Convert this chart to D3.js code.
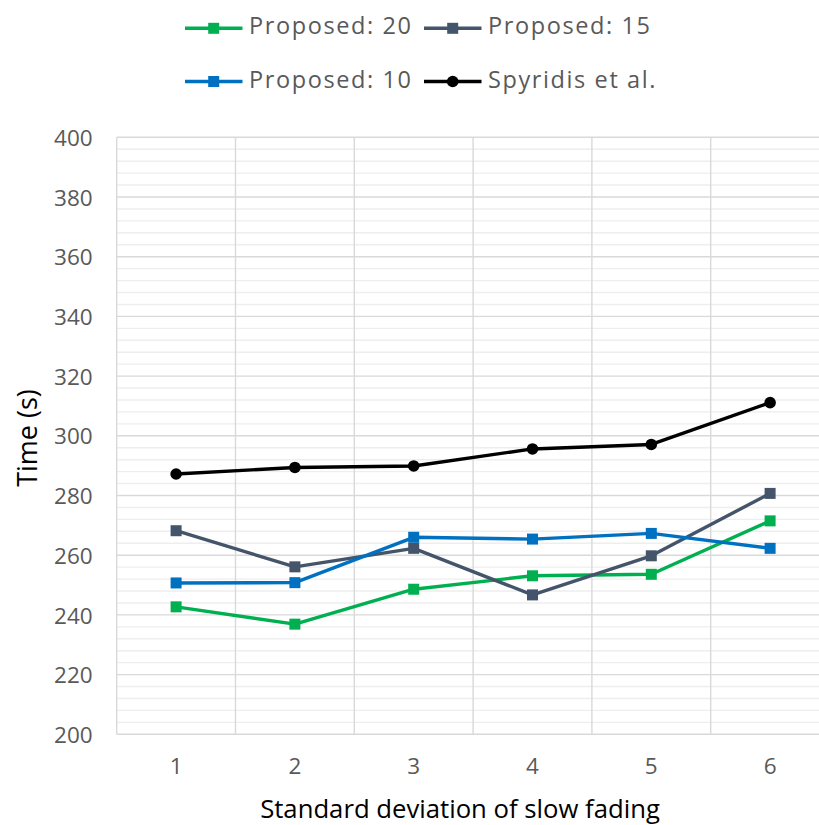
<!DOCTYPE html>
<html>
<head>
<meta charset="utf-8">
<script src="https://cdn.jsdelivr.net/npm/d3@7"></script>
<style>
  html, body { margin: 0; padding: 0; background: #fff; }
  svg { display: block; }
  text { font-family: "Open Sans", "Noto Sans", sans-serif; }
</style>
</head>
<body>
<svg id="chart" width="819" height="825"></svg>
<script>
// Chart data
const categories = ["1", "2", "3", "4", "5", "6"];
const proposed20 = [242.7, 236.9, 248.6, 253.1, 253.6, 271.5];
const proposed15 = [268.2, 256.1, 262.3, 246.7, 259.8, 280.7];
const proposed10 = [250.7, 250.8, 266.0, 265.4, 267.3, 262.3];
const spyridis   = [287.2, 289.4, 289.9, 295.6, 297.1, 311.1];
const yTicks = [200, 220, 240, 260, 280, 300, 320, 340, 360, 380, 400];

const seriesNames = ["Proposed: 20", "Proposed: 15", "Proposed: 10", "Spyridis et al."];
const seriesValues = [proposed20, proposed15, proposed10, spyridis];
const seriesColors = ["#00b050", "#44546a", "#0070c0", "#000000"];
const seriesMarkers = ["square", "square", "square", "circle"];

const series = seriesNames.map((name, i) => ({
  name, values: seriesValues[i], color: seriesColors[i], marker: seriesMarkers[i]
}));

const svg = d3.select("#chart");
const plot = { left: 116.7, right: 829.5, top: 137.3, bottom: 734.3 };

const x = d3.scaleBand().domain(categories).range([plot.left, plot.right]).padding(0);
const y = d3.scaleLinear().domain([200, 400]).range([plot.bottom, plot.top]);

// Minor horizontal gridlines every 4 units
const minorTicks = d3.range(200, 401, 4).filter(v => v % 20 !== 0);
svg.append("g")
  .selectAll("line").data(minorTicks).join("line")
  .attr("x1", plot.left).attr("x2", plot.right)
  .attr("y1", d => y(d)).attr("y2", d => y(d))
  .attr("stroke", "#eeeeee").attr("stroke-width", 1.4);

// Major horizontal gridlines
svg.append("g")
  .selectAll("line").data(yTicks).join("line")
  .attr("x1", plot.left).attr("x2", plot.right)
  .attr("y1", d => y(d)).attr("y2", d => y(d))
  .attr("stroke", "#d9d9d9").attr("stroke-width", 1.4);

// Vertical gridlines at category boundaries
const bounds = categories.map(c => x(c)).concat([x(categories[categories.length - 1]) + x.bandwidth()]);
svg.append("g")
  .selectAll("line").data(bounds).join("line")
  .attr("x1", d => d).attr("x2", d => d)
  .attr("y1", plot.top).attr("y2", plot.bottom)
  .attr("stroke", "#d9d9d9").attr("stroke-width", 1.4);

// Y axis tick labels
const yAxis = d3.axisLeft(y).tickValues(yTicks).tickSize(0).tickPadding(24);
const gy = svg.append("g").attr("transform", `translate(${plot.left},0)`).call(yAxis);
gy.select(".domain").remove();
gy.selectAll("text")
  .attr("font-family", "Open Sans").attr("font-size", 22.5).attr("fill", "#595959")
  .attr("dy", "0.36em");

// X axis tick labels
const xAxis = d3.axisBottom(x).tickSize(0).tickPadding(24);
const gx = svg.append("g").attr("transform", `translate(0,${plot.bottom})`).call(xAxis);
gx.select(".domain").remove();
gx.selectAll("text")
  .attr("font-family", "Open Sans").attr("font-size", 22.5).attr("fill", "#595959")
  .attr("dy", "0.72em");

// Series lines and markers
const cx = (i) => x(categories[i]) + x.bandwidth() / 2;
const line = d3.line().x((d, i) => cx(i)).y(d => y(d));

series.forEach(s => {
  const g = svg.append("g");
  g.append("path").datum(s.values)
    .attr("d", line).attr("fill", "none")
    .attr("stroke", s.color).attr("stroke-width", 3.4)
    .attr("stroke-linejoin", "round");
  if (s.marker === "square") {
    g.selectAll("rect").data(s.values).join("rect")
      .attr("x", (d, i) => cx(i) - 5.5).attr("y", d => y(d) - 5.5)
      .attr("width", 11).attr("height", 11)
      .attr("fill", s.color);
  } else {
    g.selectAll("circle").data(s.values).join("circle")
      .attr("cx", (d, i) => cx(i)).attr("cy", d => y(d))
      .attr("r", 5.8).attr("fill", s.color);
  }
});

// Legend (two rows, two columns)
const legendPos = [[185, 28.3], [424, 28.3], [185, 81.5], [424, 81.5]];
series.forEach((s, i) => {
  const [lx, ly] = legendPos[i];
  const g = svg.append("g").attr("transform", `translate(${lx},${ly})`);
  g.append("line").attr("x1", 0).attr("x2", 57.5).attr("y1", 0).attr("y2", 0)
    .attr("stroke", s.color).attr("stroke-width", 3.4);
  if (s.marker === "square") {
    g.append("rect").attr("x", 28.7 - 5.5).attr("y", -5.5)
      .attr("width", 11).attr("height", 11).attr("fill", s.color);
  } else {
    g.append("circle").attr("cx", 28.7).attr("cy", 0).attr("r", 5.8).attr("fill", s.color);
  }
  g.append("text").attr("x", 64).attr("y", 6)
    .attr("font-size", 23.5).attr("letter-spacing", 1.6).attr("fill", "#595959")
    .text(s.name);
});

// Axis titles
svg.append("text")
  .attr("transform", `translate(37,438) rotate(-90)`)
  .attr("text-anchor", "middle").attr("font-size", 27).attr("fill", "#000")
  .text("Time (s)");

svg.append("text")
  .attr("x", 460).attr("y", 818)
  .attr("text-anchor", "middle").attr("font-size", 25.7).attr("fill", "#000")
  .text("Standard deviation of slow fading");
</script>
</body>
</html>
